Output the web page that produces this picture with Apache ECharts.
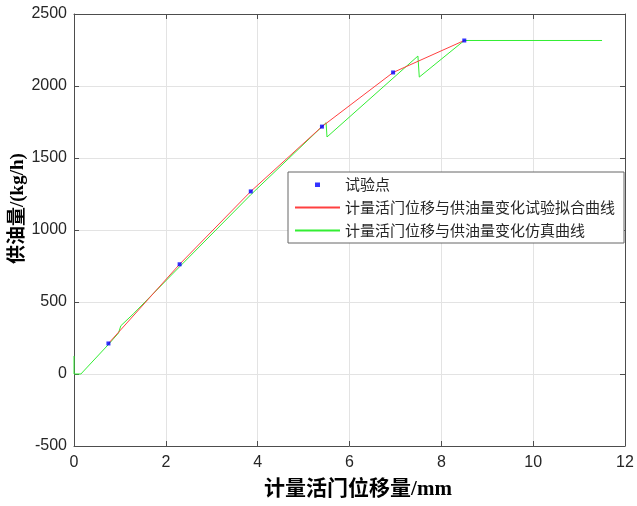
<!DOCTYPE html>
<html>
<head>
<meta charset="utf-8">
<script src="https://cdn.jsdelivr.net/npm/echarts@6/dist/echarts.min.js"></script>
<style>html,body{margin:0;padding:0;background:#fff;}#c{width:637px;height:506px;}</style>
</head>
<body>
<div id="c"></div>
<script>
// Test points
const testX = [0.75, 2.30, 3.85, 5.40, 6.95, 8.50];
const testY = [212, 762, 1268, 1718, 2094, 2316];
// Fitted curve (through test points)
const fitX = [0.75, 2.30, 3.85, 5.40, 6.95, 8.50];
const fitY = [212, 762, 1268, 1718, 2094, 2316];
// Simulation curve
const simX = [0, 0, 0.15, 0.75, 0.97, 1.02, 1.30, 2.30, 3.85, 5.49, 5.51, 7.49, 7.52, 8.50, 11.50];
const simY = [125, 0, 0, 205, 285, 335, 420, 745, 1245, 1745, 1646, 2208, 2062, 2316, 2316];
// Axis ticks
const xTicks = [0, 2, 4, 6, 8, 10, 12];
const yTicks = [-500, 0, 500, 1000, 1500, 2000, 2500];

const names = ['试验点', '计量活门位移与供油量变化试验拟合曲线', '计量活门位移与供油量变化仿真曲线'];
const zip = (a, b) => a.map((v, i) => [v, b[i]]);

const axisColor = '#4d4d4d';
const redC = '#ff4040', greenC = '#33ee33';
const labelStyle = {color: '#262626', fontSize: 16, fontFamily: 'Liberation Sans, Arial, sans-serif', formatter: v => String(v)};

const chart = echarts.init(document.getElementById('c'), null, {renderer: 'canvas'});
chart.setOption({
  backgroundColor: '#fff',
  animation: false,
  grid: {left: 74, top: 14, width: 551, height: 432, containLabel: false},
  xAxis: [{
    type: 'value', min: xTicks[0], max: xTicks[xTicks.length - 1], interval: 2,
    axisLine: {show: true, onZero: false, lineStyle: {color: axisColor, width: 1}},
    axisTick: {show: true, inside: true, length: 5, lineStyle: {color: axisColor}},
    axisLabel: Object.assign({margin: 9}, labelStyle),
    splitLine: {show: true, lineStyle: {color: '#e3e3e3', width: 1}}
  }, {
    type: 'value', position: 'top', min: xTicks[0], max: xTicks[xTicks.length - 1], interval: 2,
    axisLine: {show: true, onZero: false, lineStyle: {color: axisColor, width: 1}},
    axisTick: {show: true, inside: true, length: 5, lineStyle: {color: axisColor}},
    axisLabel: {show: false}, splitLine: {show: false}
  }],
  yAxis: [{
    type: 'value', min: yTicks[0], max: yTicks[yTicks.length - 1], interval: 500,
    axisLine: {show: true, onZero: false, lineStyle: {color: axisColor, width: 1}},
    axisTick: {show: true, inside: true, length: 5, lineStyle: {color: axisColor}},
    axisLabel: Object.assign({margin: 7}, labelStyle),
    splitLine: {show: true, lineStyle: {color: '#e3e3e3', width: 1}}
  }, {
    type: 'value', position: 'right', min: yTicks[0], max: yTicks[yTicks.length - 1], interval: 500,
    axisLine: {show: true, onZero: false, lineStyle: {color: axisColor, width: 1}},
    axisTick: {show: true, inside: true, length: 5, lineStyle: {color: axisColor}},
    axisLabel: {show: false}, splitLine: {show: false}
  }],
  legend: {
    orient: 'vertical', left: 288, top: 172,
    padding: [5, 9, 5, 6], itemGap: 8, itemWidth: 45, itemHeight: 14,
    backgroundColor: '#fff', borderColor: '#666', borderWidth: 1, borderRadius: 0,
    textStyle: {color: '#262626', fontSize: 15, fontFamily: 'Noto Sans CJK SC, sans-serif'},
    data: [
      {name: names[0], icon: 'path://M0,0M45,14M20,5L25,5L25,9.5L20,9.5Z', itemStyle: {color: '#0000ff', borderWidth: 0}},
      {name: names[1], itemStyle: {opacity: 0}},
      {name: names[2], itemStyle: {opacity: 0}}
    ]
  },
  graphic: [
    {type: 'text', x: 358, y: 490,
      style: {text: '计量活门位移量/mm', fill: '#000', align: 'center', verticalAlign: 'middle',
        font: 'bold 21px "Liberation Serif", "Times New Roman", "Noto Sans CJK SC", serif'}},
    {type: 'text', x: 18, y: 264, rotation: Math.PI / 2,
      style: {text: '供油量/(kg/h)', fill: '#000', font: 'bold 19px "Liberation Serif", "Times New Roman", "Noto Sans CJK SC", serif', align: 'left', verticalAlign: 'middle'}}
  ],
  series: [
    {name: names[2], type: 'line', data: zip(simX, simY), symbol: 'none', z: 2,
      lineStyle: {color: greenC, width: 1}, itemStyle: {color: greenC}},
    {name: names[1], type: 'line', data: zip(fitX, fitY), symbol: 'none', z: 3,
      lineStyle: {color: redC, width: 1}, itemStyle: {color: redC}},
    {name: names[0], type: 'scatter', data: zip(testX, testY), symbol: 'rect', symbolSize: 4, z: 4,
      itemStyle: {color: '#0000ff'}}
  ]
});
</script>
</body>
</html>
